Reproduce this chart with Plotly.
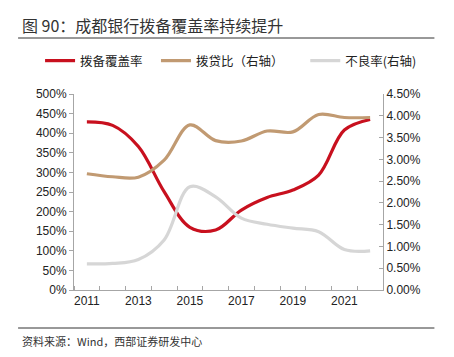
import plotly.graph_objects as go

years = [2011, 2012, 2013, 2014, 2015, 2016, 2017, 2018, 2019, 2020, 2021, 2022]
provision_coverage = [429, 420, 366, 251, 160, 153, 204, 236, 255, 293, 408, 435]  # %
loan_provision_ratio = [2.67, 2.60, 2.59, 2.98, 3.79, 3.43, 3.42, 3.65, 3.63, 4.03, 3.96, 3.96]  # %
npl_ratio = [0.60, 0.61, 0.70, 1.15, 2.37, 2.14, 1.65, 1.51, 1.42, 1.34, 0.93, 0.90]  # %
series_names = ["拨备覆盖率", "拨贷比（右轴）", "不良率(右轴)"]

x_labels = [2011, 2013, 2015, 2017, 2019, 2021]
boundaries = [y - 0.5 for y in years] + [years[-1] + 0.5]

CJK = "Noto Sans CJK SC"
NUM = "Liberation Sans, Arial, sans-serif"
NB = "\u00a0"

fig = go.Figure()
fig.add_trace(go.Scatter(x=years, y=provision_coverage, name=series_names[0] + NB * 3, mode="lines",
                         line=dict(color="#C8101E", width=3.2, shape="spline", smoothing=1)))
fig.add_trace(go.Scatter(x=years, y=loan_provision_ratio, name=series_names[1] + NB * 6, mode="lines", yaxis="y2",
                         line=dict(color="#C19A72", width=3.2, shape="spline", smoothing=1)))
fig.add_trace(go.Scatter(x=years, y=npl_ratio, name=series_names[2], mode="lines", yaxis="y2",
                         line=dict(color="#D6D6D6", width=3.2, shape="spline", smoothing=1)))

axis_color = "#A6A6A6"
fig.update_layout(
    width=454, height=357,
    margin=dict(l=74, r=71, t=94, b=67, autoexpand=False),
    paper_bgcolor="white", plot_bgcolor="white",
    font=dict(family=NUM, size=12, color="#222222"),
    showlegend=True,
    legend=dict(orientation="h", x=(40 - 74) / 309.5, xanchor="left",
                y=(290 - 61) / 196, yanchor="middle",
                font=dict(family=CJK, size=12.5, color="#222222"),
                bgcolor="rgba(0,0,0,0)", tracegroupgap=0),
    xaxis=dict(range=[2010.5, 2022.5], tickvals=x_labels, ticktext=[str(v) for v in x_labels],
               ticks="", showline=True, linecolor=axis_color, linewidth=1, showgrid=False,
               zeroline=False, tickfont=dict(family=NUM, size=12), automargin=False,
               minor=dict(tickvals=boundaries, ticks="inside", ticklen=4, tickcolor=axis_color, showgrid=False)),
    yaxis=dict(range=[0, 500], dtick=50, ticksuffix="%", ticks="outside", ticklen=4,
               tickcolor=axis_color, showline=True, linecolor=axis_color, showgrid=False,
               zeroline=False, tickfont=dict(family=NUM, size=12), automargin=False),
    yaxis2=dict(range=[0, 4.5], dtick=0.5, tickformat=".2f", ticksuffix="%", overlaying="y",
                side="right", ticks="inside", ticklen=4, tickcolor=axis_color, showline=True,
                linecolor=axis_color, showgrid=False, zeroline=False,
                tickfont=dict(family=NUM, size=12), automargin=False),
)

# Title
fig.add_annotation(text="图 90：成都银行拨备覆盖率持续提升", xref="paper", yref="paper",
                   x=(20 - 74) / 309.5, y=(290 - 25) / 196, xanchor="left", yanchor="middle",
                   showarrow=False, font=dict(family=CJK, size=16, color="#333333"))
# Source
fig.add_annotation(text="资料来源：Wind，西部证券研发中心", xref="paper", yref="paper",
                   x=(20 - 74) / 309.5, y=(290 - 341) / 196, xanchor="left", yanchor="middle",
                   showarrow=False, font=dict(family=CJK, size=11, color="#333333"))
# Rules
fig.add_shape(type="line", xref="paper", yref="paper", x0=(18 - 74) / 309.5, x1=(435 - 74) / 309.5,
              y0=(290 - 38) / 196, y1=(290 - 38) / 196, line=dict(color="#333333", width=1))
fig.add_shape(type="line", xref="paper", yref="paper", x0=(18 - 74) / 309.5, x1=(435 - 74) / 309.5,
              y0=(290 - 328) / 196, y1=(290 - 328) / 196, line=dict(color="#333333", width=1))

fig.write_html("out.html", config={"displayModeBar": False},
               post_script="document.body.style.margin='0';")
